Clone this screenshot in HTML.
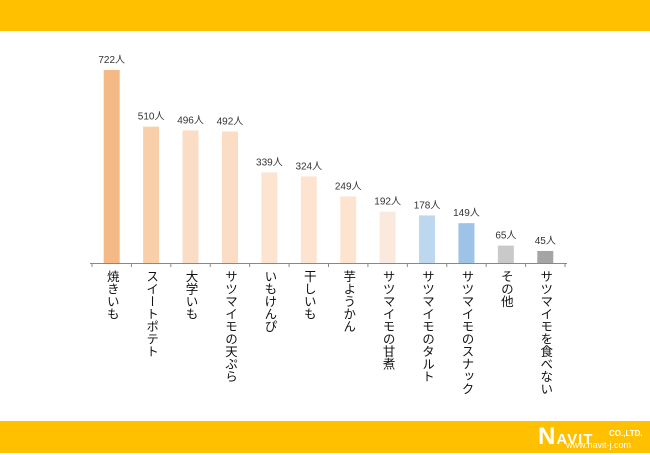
<!DOCTYPE html>
<html><head><meta charset="utf-8"><style>
body{margin:0;width:650px;height:455px;background:#fff;overflow:hidden;font-family:"Liberation Sans","Noto Sans CJK JP",sans-serif;}
#top{position:absolute;left:0;top:0;width:650px;height:31px;background:#FFC000;}
#bot{position:absolute;left:0;top:421px;width:650px;height:32px;background:#FFC000;}
.logo{position:absolute;color:#fff;font-weight:bold;}
svg{position:absolute;left:0;top:0;}
</style></head><body>
<div id="top"></div>
<div id="bot">
<div class="logo" style="left:538px;top:2px;font-size:24px;letter-spacing:1px">N<span style="font-size:15px">AVIT</span></div>
<div class="logo" style="left:609px;top:8px;font-size:8px">CO.,LTD.</div>
<div class="logo" style="left:566px;top:19px;font-size:9px;font-weight:normal">www.navit-j.com</div>
</div>
<svg width="650" height="455" id="chart"></svg>
<script>
const categories=["焼きいも","スイートポテト","大学いも","サツマイモの天ぷら","いもけんぴ","干しいも","芋ようかん","サツマイモの甘煮","サツマイモのタルト","サツマイモのスナック","その他","サツマイモを食べない"];
const values=[722,510,496,492,339,324,249,192,178,149,65,45];
const colors=["#F5B986","#F9CFA9","#FBDCC4","#FBDCC4","#FDE4D1","#FDE4D1","#FDE4D1","#FCE9DD","#BDD7EE","#9DC3E6","#C9C9C9","#A5A5A5"];
const NS="http://www.w3.org/2000/svg";
const svg=document.getElementById('chart');
const x0=92,x1=565,axisY=263,scale=193/722;
const bw=(x1-x0)/categories.length;
const xPos=i=>x0+bw*i+bw/2;
const yPos=v=>axisY-v*scale;
function mk(t,a){const e=document.createElementNS(NS,t);for(const k in a)e.setAttribute(k,a[k]);svg.appendChild(e);return e;}
values.forEach((v,i)=>{
 const r=mk('rect',{x:xPos(i)-8,y:yPos(v),width:16,height:axisY-yPos(v),fill:colors[i]});
 
 
 const t=mk('text',{x:xPos(i),y:yPos(v)-7,'text-anchor':'middle','font-size':'10',fill:'#333'});
 t.textContent=v+'人';
 
 
 const c=mk('text',{x:xPos(i),y:270,'font-size':'12.5',fill:'#111',style:'writing-mode:vertical-rl;text-orientation:upright'});
 c.textContent=categories[i];
 
 
});
const ax=mk('line',{x1:x0-2,y1:axisY+0.5,x2:x1+2,y2:axisY+0.5,stroke:'#888','stroke-width':1});


for(let i=0;i<=categories.length;i++){
 const tk=mk('line',{x1:x0+bw*i,y1:axisY,x2:x0+bw*i,y2:axisY+4,stroke:'#888'});
 
 
}
</script>
</body></html>
